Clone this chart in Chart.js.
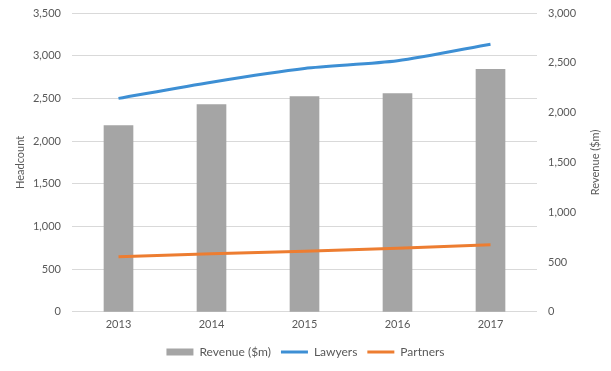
<!DOCTYPE html>
<html>
<head>
<meta charset="utf-8">
<script src="https://cdn.jsdelivr.net/npm/chart.js@4"></script>
<style>
html,body{margin:0;padding:0;background:#fff;}
#wrap{width:611px;height:371px;position:relative;}
</style>
</head>
<body>
<div id="wrap"><canvas id="c" width="611" height="371"></canvas></div>
<script>
const categories = ["2013", "2014", "2015", "2016", "2017"];
const revenue = [1870, 2080, 2160, 2190, 2435];
const lawyers = [2500, 2690, 2850, 2940, 3135];
const partners = [645, 680, 710, 745, 785];
const headcountTicks = [0, 500, 1000, 1500, 2000, 2500, 3000, 3500];
const revenueTicks = [0, 500, 1000, 1500, 2000, 2500, 3000];

const tickColor = '#595959';
const fontFamily = 'Lato, "Open Sans", sans-serif';
const font = { family: fontFamily, size: 11 };
const legendFont = { family: fontFamily, size: 12 };

const rightTitle = {
  id: 'rightTitle',
  afterDraw(chart) {
    const ctx = chart.ctx;
    const a = chart.chartArea;
    ctx.save();
    ctx.translate(595, (a.top + a.bottom) / 2);
    ctx.rotate(-Math.PI / 2);
    ctx.fillStyle = tickColor;
    ctx.font = '11px ' + fontFamily;
    ctx.textAlign = 'center';
    ctx.textBaseline = 'middle';
    ctx.fillText('Revenue ($m)', 0, 0);
    ctx.restore();
  }
};

function fitY(width) {
  return (ax) => { ax.width = width; ax.paddingTop = 0; ax.paddingBottom = 0; };
}

new Chart(document.getElementById('c'), {
  type: 'bar',
  data: {
    labels: categories,
    datasets: [
      {
        type: 'bar', label: 'Revenue ($m)', data: revenue, yAxisID: 'y1',
        backgroundColor: '#a5a5a5', borderWidth: 0,
        barThickness: 29, order: 3
      },
      {
        type: 'line', label: 'Lawyers', data: lawyers, yAxisID: 'y',
        borderColor: '#3d8fd4', backgroundColor: '#3d8fd4', borderWidth: 3,
        pointRadius: 0, tension: 0.25, order: 1
      },
      {
        type: 'line', label: 'Partners', data: partners, yAxisID: 'y',
        borderColor: '#ed7d31', backgroundColor: '#ed7d31', borderWidth: 3,
        pointRadius: 0, tension: 0.25, order: 2
      }
    ]
  },
  plugins: [rightTitle],
  options: {
    responsive: false,
    animation: false,
    layout: { padding: { left: 0, right: 0, top: 13, bottom: 3 } },
    plugins: {
      tooltip: { enabled: false },
      legend: {
        position: 'bottom',
        labels: {
          color: tickColor, font: legendFont, usePointStyle: true,
          pointStyleWidth: 27, boxHeight: 7, padding: 10,
          sort: (a, b) => a.datasetIndex - b.datasetIndex,
          generateLabels: (chart) => {
            const items = Chart.defaults.plugins.legend.labels.generateLabels(chart);
            items.forEach(it => {
              it.pointStyle = it.datasetIndex === 0 ? 'rect' : 'line';
              if (it.datasetIndex === 0) { it.lineWidth = 0; it.strokeStyle = 'rgba(0,0,0,0)'; }
            });
            return items;
          }
        }
      }
    },
    scales: {
      x: {
        grid: { display: false, drawTicks: false },
        border: { display: false },
        afterFit: (ax) => { ax.height -= 1; },
        ticks: { color: tickColor, font: font, padding: 6 }
      },
      y: {
        position: 'left', min: 0, max: 3500,
        afterBuildTicks: (ax) => { ax.ticks = headcountTicks.map(v => ({ value: v })); },
        afterFit: fitY(72),
        grid: { color: '#d9d9d9', drawTicks: false, lineWidth: 1 },
        border: { display: false },
        ticks: { color: tickColor, font: font, padding: 11,
          callback: (v) => v.toLocaleString('en-US') },
        title: { display: true, text: 'Headcount', color: tickColor, font: font, padding: { top: 14, bottom: 0 } }
      },
      y1: {
        position: 'right', min: 0, max: 3000,
        afterBuildTicks: (ax) => { ax.ticks = revenueTicks.map(v => ({ value: v })); },
        afterFit: fitY(74),
        grid: { display: false, drawTicks: false },
        border: { display: false },
        ticks: { color: tickColor, font: font, padding: 11,
          callback: (v) => v.toLocaleString('en-US') }
      }
    }
  }
});
</script>
</body>
</html>
